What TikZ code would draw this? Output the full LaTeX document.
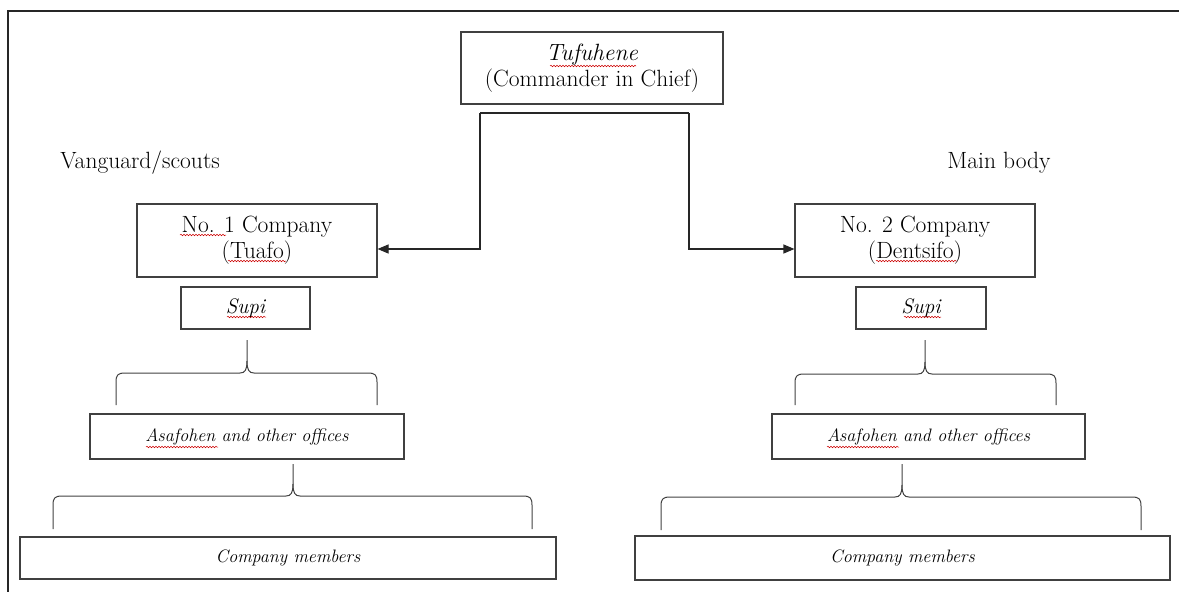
\documentclass[tikz,border=0pt]{standalone}
\usetikzlibrary{arrows.meta,decorations.pathmorphing}
\newcommand\mybrace[6]{% left x, right x, tip x, bar y, bottom y, top y
  \draw[bracestyle] (#1,#5) -- (#1,#4+9) .. controls (#1,#4+2) and (#1+2,#4) .. (#1+9,#4) -- (#3-7,#4) .. controls (#3-2,#4) and (#3,#4-3) .. (#3,#4-12) -- (#3,#6);
  \draw[bracestyle] (#2,#5) -- (#2,#4+9) .. controls (#2,#4+2) and (#2-2,#4) .. (#2-9,#4) -- (#3+7,#4) .. controls (#3+2,#4) and (#3,#4-3) .. (#3,#4-12);
}
\newcommand\squig[3]{\draw[squigstyle] (#1,#3) -- (#2,#3);}
\begin{document}
\begin{tikzpicture}[x=1pt,y=-1pt,
  box/.style={draw=black!75,line width=1.1pt,inner sep=0pt,align=center,font=\fontsize{23.5}{26}\selectfont},
  ibox/.style={box,font=\fontsize{18}{21}\selectfont\itshape},
  sbox/.style={box,font=\fontsize{21}{24}\selectfont\itshape},
  bracestyle/.style={draw=black!75,line width=1pt},
  conn/.style={draw=black!85,line width=1.1pt},
  arr/.style={conn,-{Triangle[length=11pt,width=9pt]}},
  lab/.style={font=\fontsize{23.5}{26}\selectfont,inner sep=0pt},
  squigstyle/.style={draw=red!80!black,line width=0.5pt,decorate,decoration={snake,segment length=3pt,amplitude=0.8pt}}]
\useasboundingbox (0,0) rectangle (1179,592);
\clip (0,0) rectangle (1179,592);
\draw[black!85,line width=1.8pt] (1190,11) -- (8,11) -- (8,600);

\node[box,minimum width=262pt,minimum height=72pt] (top) at (592,68) {\textit{Tufuhene}\\(Commander in Chief)};
\node[box,minimum width=240pt,minimum height=73pt] (no1) at (257,240.5) {No. 1 Company\\(Tuafo)};
\node[box,minimum width=240pt,minimum height=73pt] (no2) at (915,240.5) {No. 2 Company\\(Dentsifo)};
\node[sbox,minimum width=129pt,minimum height=42pt] (supiL) at (245.5,308) {Supi};
\node[sbox,minimum width=130pt,minimum height=42pt] (supiR) at (921,308) {Supi};
\node[ibox,minimum width=314pt,minimum height=45pt] (asafL) at (247,436.5) {Asafohen and other offices};
\node[ibox,minimum width=313pt,minimum height=45pt] (asafR) at (928.5,436.5) {Asafohen and other offices};
\node[ibox,minimum width=536pt,minimum height=42pt] (compL) at (288,558) {Company members};
\node[ibox,minimum width=535pt,minimum height=44pt] (compR) at (902.5,558) {Company members};

\node[lab] (van) at (140,163) {Vanguard/scouts};
\node[lab] (main) at (999,163) {Main body};

\coordinate (jL) at (480,113);
\coordinate (jR) at (689,113);
\coordinate (aL) at (480,249);
\coordinate (aR) at (689,249);
\draw[conn] (jL) -- (jR);
\draw[arr] (jL) -- (aL) -- (no1.east |- aL);
\draw[arr] (jR) -- (aR) -- (no2.west |- aR);

\mybrace{116}{377}{247}{373}{405}{340}
\mybrace{53}{532}{293}{496}{529}{464}
\mybrace{795}{1056}{925}{374}{405}{340}
\mybrace{661}{1141}{902}{497}{530}{464}

\squig{550}{636}{66}
\squig{180}{226}{235}
\squig{228}{286}{261}
\squig{876}{957}{261}
\squig{227}{266}{317}
\squig{904}{941}{317}
\squig{146}{218}{447}
\squig{827}{899}{447}
\end{tikzpicture}
\end{document}
